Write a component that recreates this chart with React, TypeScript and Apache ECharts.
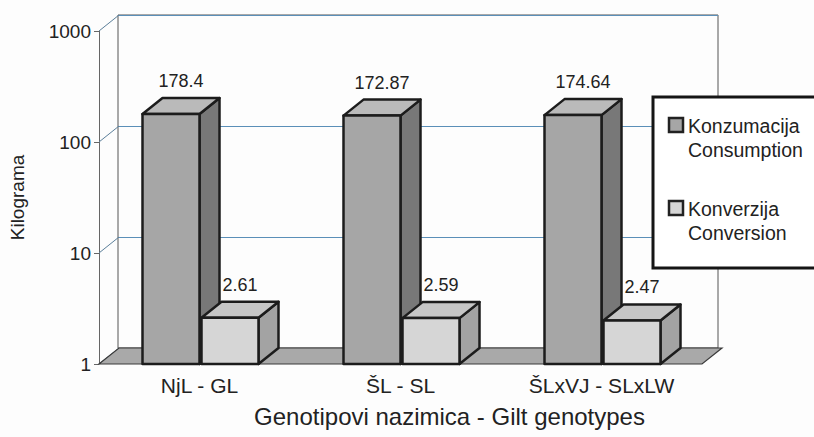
import React, { useEffect, useRef } from "react";
import * as echarts from "echarts";

const categories = ["NjL - GL", "ŠL - SL", "ŠLxVJ - SLxLW"];
const consumption = [178.4, 172.87, 174.64];
const conversion = [2.61, 2.59, 2.47];
const yTicks = [1, 10, 100, 1000];
const seriesNames = ["Konzumacija\nConsumption", "Konverzija\nConversion"];

const FONT = "Liberation Sans, Arial, Helvetica, sans-serif";
const DX = 20;
const DY = -16;
const BW = 57;

const consColors = { front: "#a6a6a6", side: "#787878", top: "#bababa" };
const convColors = { front: "#d6d6d6", side: "#a3a3a3", top: "#c6c6c6" };

function barRender(offset: number, colors: any) {
  return (params: any, api: any) => {
    const i = api.value(0);
    const v = api.value(1);
    const p = api.coord([i, v]);
    const b = api.coord([i, 1]);
    const x0 = p[0] + offset;
    const x1 = x0 + BW;
    const yT = p[1];
    const yB = b[1];
    const stroke = { stroke: "#1c1c1c", lineWidth: 2.5, lineJoin: "round" };
    return {
      type: "group",
      children: [
        {
          type: "polygon",
          shape: { points: [[x1, yB], [x1 + DX, yB + DY], [x1 + DX, yT + DY], [x1, yT]] },
          style: { fill: colors.side, ...stroke },
        },
        {
          type: "polygon",
          shape: { points: [[x0, yT], [x1, yT], [x1 + DX, yT + DY], [x0 + DX, yT + DY]] },
          style: { fill: colors.top, ...stroke },
        },
        {
          type: "rect",
          shape: { x: x0, y: yT, width: BW, height: yB - yT },
          style: { fill: colors.front, ...stroke },
        },
        {
          type: "text",
          x: (x0 + x1 + DX) / 2,
          y: yT + DY - 17,
          style: {
            text: String(v),
            fill: "#222",
            fontSize: 18,
            fontFamily: FONT,
            align: "center",
            verticalAlign: "middle",
          },
        },
      ],
    };
  };
}

export default function App() {
  const ref = useRef<HTMLDivElement>(null);
  useEffect(() => {
    if (!ref.current) return;
    const chart = echarts.init(ref.current, null, { renderer: "svg" });
    const option: any = {
      animation: false,
      backgroundColor: "#fdfdfd",
      textStyle: { fontFamily: FONT },
      grid: [
        { left: 98, right: 112, top: 31, bottom: 73 },
        { left: 118, right: 96, top: 15, bottom: 89, show: true, borderColor: "#555", borderWidth: 1, backgroundColor: "transparent" },
      ],
      xAxis: [
        {
          type: "category",
          gridIndex: 0,
          data: categories,
          axisLine: { show: false },
          axisTick: { show: false },
          axisLabel: { fontSize: 21, color: "#222", margin: 11, fontFamily: FONT },
          name: "Genotipovi nazimica - Gilt genotypes",
          nameLocation: "middle",
          nameGap: 40,
          nameTextStyle: { fontSize: 24, color: "#222", fontFamily: FONT, padding: [0, 0, 0, 98] },
        },
        {
          type: "category",
          gridIndex: 1,
          data: categories,
          show: false,
        },
      ],
      yAxis: [
        {
          type: "log",
          gridIndex: 0,
          logBase: 10,
          min: 1,
          max: 1000,
          axisLine: { show: true, lineStyle: { color: "#666", width: 1 } },
          axisTick: { show: true, length: 5, lineStyle: { color: "#666" } },
          splitLine: { show: false },
          axisLabel: { fontSize: 19, color: "#222", margin: 8, fontFamily: FONT, formatter: (v: number) => String(v) },
          name: "Kilograma",
          nameLocation: "middle",
          nameGap: 72,
          nameTextStyle: { fontSize: 19, color: "#222", fontFamily: FONT },
        },
        {
          type: "log",
          gridIndex: 1,
          logBase: 10,
          min: 1,
          max: 1000,
          axisLine: { show: false },
          axisTick: { show: false },
          axisLabel: { show: false },
          splitLine: { show: true, lineStyle: { color: "#5b8fb8", width: 1 } },
        },
      ],
      series: [
        {
          type: "custom",
          xAxisIndex: 0,
          yAxisIndex: 0,
          z: 1,
          silent: true,
          data: yTicks.map((t) => [0, t]),
          renderItem: (params: any, api: any) => {
            const cs = params.coordSys;
            const p = api.coord([0, api.value(1)]);
            return {
              type: "line",
              shape: { x1: cs.x, y1: p[1], x2: cs.x + DX, y2: p[1] + DY },
              style: { stroke: "#5b7f9a", lineWidth: 1 },
            };
          },
        },
        {
          type: "custom",
          xAxisIndex: 0,
          yAxisIndex: 0,
          z: 2,
          silent: true,
          data: [[0, 1]],
          renderItem: (params: any) => {
            const cs = params.coordSys;
            const yb = cs.y + cs.height;
            return {
              type: "polygon",
              shape: {
                points: [
                  [cs.x, yb],
                  [cs.x + cs.width, yb],
                  [cs.x + cs.width + DX, yb + DY],
                  [cs.x + DX, yb + DY],
                ],
              },
              style: { fill: "#a9a9a9", stroke: "#3a3a3a", lineWidth: 1.2 },
            };
          },
        },
        {
          type: "custom",
          name: seriesNames[0],
          xAxisIndex: 0,
          yAxisIndex: 0,
          z: 3,
          data: consumption.map((v, i) => [i, v]),
          encode: { x: 0, y: 1 },
          renderItem: barRender(-57, consColors),
        },
        {
          type: "custom",
          name: seriesNames[1],
          xAxisIndex: 0,
          yAxisIndex: 0,
          z: 4,
          data: conversion.map((v, i) => [i, v]),
          encode: { x: 0, y: 1 },
          renderItem: barRender(2, convColors),
        },
      ],
      graphic: [
        {
          type: "rect",
          z: 100,
          shape: { x: 653, y: 97, width: 175, height: 171 },
          style: { fill: "#ffffff", stroke: "#151515", lineWidth: 3 },
        },
        {
          type: "rect",
          z: 101,
          shape: { x: 669, y: 118, width: 14, height: 14 },
          style: { fill: consColors.front, stroke: "#222", lineWidth: 2.5 },
        },
        {
          type: "text",
          z: 101,
          x: 688,
          y: 114,
          style: { text: seriesNames[0], fontSize: 19.5, lineHeight: 24, fontFamily: FONT, fill: "#222", align: "left", verticalAlign: "top" },
        },
        {
          type: "rect",
          z: 101,
          shape: { x: 669, y: 201, width: 14, height: 14 },
          style: { fill: convColors.front, stroke: "#222", lineWidth: 2.5 },
        },
        {
          type: "text",
          z: 101,
          x: 688,
          y: 197,
          style: { text: seriesNames[1], fontSize: 19.5, lineHeight: 24, fontFamily: FONT, fill: "#222", align: "left", verticalAlign: "top" },
        },
      ],
    };
    chart.setOption(option);
    return () => chart.dispose();
  }, []);
  return (
    <div
      ref={ref}
      style={{ position: "fixed", left: 0, top: 0, width: 814, height: 437 }}
    />
  );
}
